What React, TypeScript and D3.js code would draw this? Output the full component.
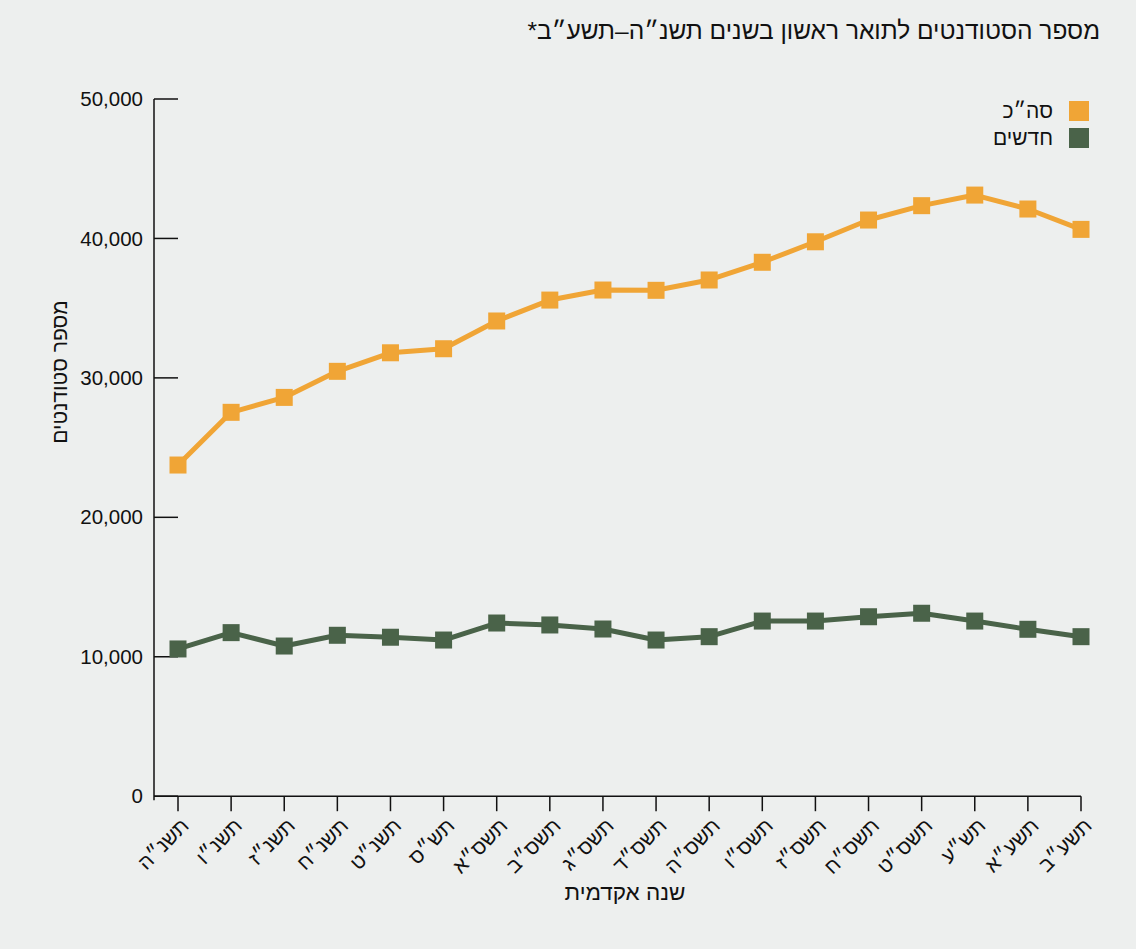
import React, { useLayoutEffect } from "react";
import * as d3 from "d3";

const categories = [
  "תשנ״ה", "תשנ״ו", "תשנ״ז", "תשנ״ח", "תשנ״ט", "תש״ס", "תשס״א", "תשס״ב", "תשס״ג",
  "תשס״ד", "תשס״ה", "תשס״ו", "תשס״ז", "תשס״ח", "תשס״ט", "תש״ע", "תשע״א", "תשע״ב",
];
const totalValues = [
  23750, 27530, 28600, 30470, 31800, 32090, 34080, 35580, 36300,
  36280, 37020, 38290, 39760, 41320, 42350, 43110, 42110, 40650,
];
const newValues = [
  10560, 11730, 10770, 11540, 11400, 11200, 12420, 12280, 11990,
  11200, 11440, 12560, 12560, 12870, 13120, 12560, 11970, 11440,
];
const yTicks = [0, 10000, 20000, 30000, 40000, 50000];
const seriesNames = ["סה״כ", "חדשים"];
const title = "מספר הסטודנטים לתואר ראשון בשנים תשנ״ה–תשע״ב*";
const yTitle = "מספר סטודנטים";
const xTitle = "שנה אקדמית";

const W = 1136;
const H = 949;
const BG = "#edefee";
const ORANGE = "#f0a536";
const GREEN = "#4a6349";
const FONT = "'Liberation Sans', Arial, sans-serif";

export default function App() {
  useLayoutEffect(() => {
    document.body.style.margin = "0";
    document.body.style.background = BG;
  }, []);

  const axisX = 154;
  const x = d3.scalePoint<string>().domain(categories).range([178, 1081]);
  const y = d3.scaleLinear().domain([0, 50000]).range([796.2, 99]);
  const fmt = d3.format(",");

  const line = d3
    .line<number>()
    .x((_, i) => x(categories[i]) as number)
    .y((d) => y(d));

  const series = [
    { name: seriesNames[0], values: totalValues, color: ORANGE },
    { name: seriesNames[1], values: newValues, color: GREEN },
  ];
  const sq = 17;

  return (
    <svg width={W} height={H} style={{ display: "block", background: BG }} fontFamily={FONT}>
      <rect width={W} height={H} fill={BG} />
      <text x={1100} y={39} direction="rtl" textAnchor="start" fontSize={24.5} fill="#111">
        {title}
      </text>

      {/* y axis */}
      <line x1={axisX} x2={axisX} y1={y(50000)} y2={y(0) + 4} stroke="#111" strokeWidth={1.5} />
      {yTicks.map((t) => (
        <g key={t}>
          <line x1={axisX} x2={178} y1={y(t)} y2={y(t)} stroke="#111" strokeWidth={1.5} />
          <text x={143} y={y(t)} dy="0.35em" textAnchor="end" fontSize={20.5} fill="#111">
            {fmt(t)}
          </text>
        </g>
      ))}
      <text
        transform={`translate(67, ${372}) rotate(-90)`}
        direction="rtl"
        textAnchor="middle"
        fontSize={21}
        fill="#111"
      >
        {yTitle}
      </text>

      {/* x axis */}
      <line x1={axisX} x2={1081} y1={y(0)} y2={y(0)} stroke="#111" strokeWidth={1.5} />
      {categories.map((c) => {
        const cx = x(c) as number;
        return (
          <g key={c}>
            <line x1={cx} x2={cx} y1={y(0)} y2={y(0) + 15} stroke="#111" strokeWidth={1.5} />
            <text
              transform={`translate(${cx + 7}, ${822}) rotate(-45)`}
              direction="rtl"
              textAnchor="start"
              dy="0.35em"
              fontSize={20.5}
              fill="#111"
            >
              {c}
            </text>
          </g>
        );
      })}
      <text x={625} y={900} direction="rtl" textAnchor="middle" fontSize={22.5} fill="#111">
        {xTitle}
      </text>

      {/* series */}
      {series.map((s) => (
        <g key={s.name}>
          <path d={line(s.values) || ""} fill="none" stroke={s.color} strokeWidth={5} strokeLinejoin="round" />
          {s.values.map((v, i) => (
            <rect
              key={i}
              x={(x(categories[i]) as number) - sq / 2}
              y={y(v) - sq / 2}
              width={sq}
              height={sq}
              fill={s.color}
            />
          ))}
        </g>
      ))}

      {/* legend */}
      {series.map((s, i) => (
        <g key={s.name} transform={`translate(0, ${101 + i * 27})`}>
          <rect x={1069} y={0} width={20} height={20} fill={s.color} />
          <text x={1053} y={10} dy="0.35em" direction="rtl" textAnchor="start" fontSize={21} fill="#111">
            {s.name}
          </text>
        </g>
      ))}
    </svg>
  );
}
